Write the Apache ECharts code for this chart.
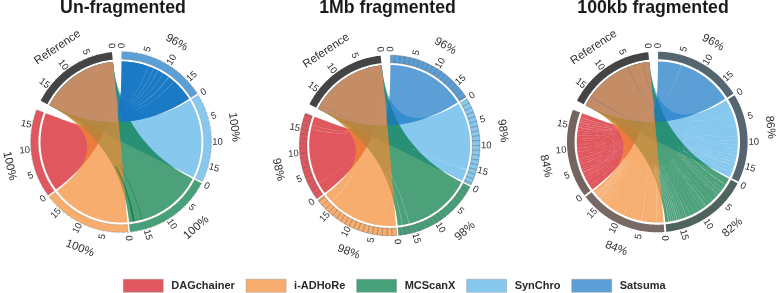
<!DOCTYPE html>
<html><head><meta charset="utf-8">
<style>html,body{margin:0;padding:0;background:#fff}#c{width:778px;height:293px}</style>
<script src="https://cdn.jsdelivr.net/npm/echarts@6/dist/echarts.min.js"></script>
</head><body><div id="c"></div>
<script>
// ---- data ----
const panels = ['Un-fragmented', '1Mb fragmented', '100kb fragmented'];
const legendOrder = ['DAGchainer', 'i-ADHoRe', 'MCScanX', 'SynChro', 'Satsuma'];
const genomeLength = 18.3;
const tickLabels = [0, 5, 10, 15];
const tickValues = [0,1,2,3,4,5,6,7,8,9,10,11,12,13,14,15,16,17,18];

const pctUnfrag = {Satsuma:'96%', SynChro:'100%', MCScanX:'100%', 'i-ADHoRe':'100%', DAGchainer:'100%'};
const pct1Mb    = {Satsuma:'96%', SynChro:'98%',  MCScanX:'98%',  'i-ADHoRe':'98%',  DAGchainer:'98%'};
const pct100kb  = {Satsuma:'96%', SynChro:'86%',  MCScanX:'82%',  'i-ADHoRe':'84%',  DAGchainer:'84%'};

// every tool aligns the whole reference
const fullBlock = [[0,18.3]];

// duplicated alignments, un-fragmented: [from,to]
const satDup0 = [[0,18.3],[0,18.3]];
const mcDup0  = [[15.2,15.35],[17.0,17.45]];
// lighter bands, un-fragmented
const satGap0 = [[6.1,6.25],[7.4,7.6],[8.5,8.7],[9.9,10.05],[11.3,11.6],[12.9,13.1]];

// uncovered gaps [from,to], 1Mb fragments
const synGap1 = [[15.5,15.6]];
const mcGap1  = [[15.6,15.7],[17.25,17.35]];
const iadGap1 = [[16.2,16.3]];
const dagGap1 = [[2.6,2.65],[15.3,15.4],[16.2,16.28]];
const refLine1 = [[17.2,17.27]];

// uncovered gaps [from,to], 100kb fragments
const satGap2 = [[5.3,5.36]];
const synGap2 = [[3.2,3.24],[6.1,6.14],[8.6,8.65],[9.7,9.74],[10.5,10.55],[11.4,11.46],[12.2,12.25],[13.1,13.16],[13.9,13.95],[14.6,14.7],[15.4,15.5],[16.3,16.36],[17.1,17.18]];
const mcGap2  = [[1.5,1.62],[2.6,2.65],[3.3,3.38],[3.8,3.84],[4.3,4.4],[4.9,4.94],[6.2,6.24],[7.3,7.36],[8.1,8.2],[8.6,8.66],[9.3,9.36],[10.2,10.25],[11.2,11.25],[12.3,12.36],[13.2,13.3],[13.8,13.86],[14.5,14.58],[15.0,15.08],[15.5,15.62],[16.0,16.1],[16.5,16.6],[17.0,17.1],[17.5,17.62]];
const iadGap2 = [[0.9,0.95],[1.5,1.6],[2.3,2.34],[3.1,3.14],[4.0,4.05],[5.0,5.1],[5.9,5.94],[6.8,6.84],[7.7,7.75],[8.6,8.64],[9.4,9.45],[10.2,10.25],[11.0,11.04],[11.9,11.94],[12.7,12.75],[13.4,13.45],[14.2,14.28],[14.8,14.88],[15.4,15.5],[16.0,16.14],[16.6,16.72],[17.1,17.25],[17.6,17.72]];
const dagGap2 = [[1.2,1.24],[2.4,2.44],[3.2,3.28],[3.8,3.84],[4.4,4.5],[5.1,5.16],[5.7,5.74],[6.4,6.48],[7.0,7.04],[7.7,7.76],[8.5,8.54],[9.3,9.36],[10.1,10.16],[11.0,11.04],[11.8,11.84],[12.5,12.54],[13.1,13.16],[13.7,13.74],[14.3,14.36],[14.9,15.0],[15.5,15.58],[16.1,16.22],[16.7,16.78],[17.2,17.3]];
const refLine2 = [[1.45,1.55],[5.0,5.1],[15.9,16.05]];

// outer ring fragment boundaries per panel
const ringEdgesUn   = [0,18.3];
const ringEdges1Mb  = [0,1,2,3,4,5,6,7,8,9,10,11,12,13,14,15,16,17,18,18.3];
const ringEdges100k = [0,18.3];

// ---- styles and layout ----
const ribbonColor = {Satsuma:'rgba(21,118,196,0.7)', SynChro:'rgba(82,176,231,0.7)', MCScanX:'rgba(0,119,65,0.7)', 'i-ADHoRe':'rgba(242,138,48,0.7)', DAGchainer:'rgba(211,15,26,0.7)'};
const ringColor = {Satsuma:'#5b9fd6', SynChro:'#86c8ee', MCScanX:'#46a07a', 'i-ADHoRe':'#f6ad6e', DAGchainer:'#e0575f', Reference:'#444444'};
const ring100k  = {Satsuma:'#556670', SynChro:'#556670', MCScanX:'#50645f', 'i-ADHoRe':'#786964', DAGchainer:'#73645f', Reference:'#444444'};
const refTint = 'rgba(238,158,140,0.32)';
const FONT = '"Liberation Sans",Arial,sans-serif';
const centers = [[121,142],[389.7,145.5],[657.3,142]];
const titleX = [123,387.5,653];
const order = ['Satsuma','SynChro','MCScanX','i-ADHoRe','DAGchainer','Reference'];
const gapAfter = [0.4,0.4,0.4,0.4,2,2];
const labelAt = {Satsuma:9.2,SynChro:7.6,MCScanX:6.9,'i-ADHoRe':8.2,DAGchainer:7.7,Reference:9};
const drawOrder = ['DAGchainer','SynChro','MCScanX','Satsuma','i-ADHoRe'];
const R = {ribbon:80.5, ringIn:82.7, ringOut:90.3, tick:91.4, tickLabel:96.5, name:114};

// sector placement on the shared angular scale
const start = {}; let cursor = 0;
order.forEach((n,i)=>{start[n]=cursor; cursor+=genomeLength+gapAfter[i];});
const total = cursor;
const ang = (n,v)=> n==='Reference' ? start[n]+genomeLength-v : start[n]+v;

const dups = [{Satsuma:satDup0,MCScanX:mcDup0},{},{}];
const streaks = [
  {Satsuma:satGap0},
  {SynChro:synGap1,MCScanX:mcGap1,'i-ADHoRe':iadGap1,DAGchainer:dagGap1},
  {Satsuma:satGap2,SynChro:synGap2,MCScanX:mcGap2,'i-ADHoRe':iadGap2,DAGchainer:dagGap2}
];
const refLines=[[],refLine1,refLine2];
const ringEdges=[ringEdgesUn,ringEdges1Mb,ringEdges100k];
const pcts=[pctUnfrag,pct1Mb,pct100kb];

function arc(api,r,a0,a1){
  const n=Math.max(2,Math.ceil(Math.abs(a1-a0)/0.25)+1), pts=[];
  for(let i=0;i<n;i++){pts.push(api.coord([r,a0+(a1-a0)*i/(n-1)]));}
  return pts;
}
function quad(A,C,B,tMax){
  const pts=[], T=tMax===undefined?1:tMax;
  for(let i=1;i<24;i++){const t=T*i/24,u=1-t;
    pts.push([u*u*A[0]+2*u*t*C[0]+t*t*B[0],u*u*A[1]+2*u*t*C[1]+t*t*B[1]]);}
  return pts;
}
function ribbonSeries(pi,tool){
  return {type:'custom',name:tool,coordinateSystem:'polar',polarIndex:pi,z:2,silent:true,
    data:fullBlock,
    renderItem(p,api){
      const s=api.value(0),e=api.value(1),C=api.coord([0,0]);
      const a=arc(api,R.ribbon,ang(tool,s),ang(tool,e));
      const b=arc(api,R.ribbon,ang('Reference',e),ang('Reference',s));
      const pts=a.concat(quad(a[a.length-1],C,b[0]),b,quad(b[b.length-1],C,a[0]));
      return {type:'polygon',shape:{points:pts},style:{fill:ribbonColor[tool],stroke:null}};
    }};
}
// duplicated blocks and gaps show on the tool's side and fade before the ribbons converge
function taperSeries(pi,tool,data,tMax,fill,z){
  return {type:'custom',coordinateSystem:'polar',polarIndex:pi,z,silent:true,data:data||[],
    renderItem(p,api){
      const s=api.value(0),e=api.value(1),C=api.coord([0,0]);
      const a=arc(api,R.ribbon,ang(tool,s),ang(tool,e));
      const Bs=api.coord([R.ribbon,ang('Reference',s)]),Be=api.coord([R.ribbon,ang('Reference',e)]);
      const q1=quad(a[a.length-1],C,Be,tMax),q2=quad(a[0],C,Bs,tMax).reverse();
      return {type:'polygon',shape:{points:a.concat(q1,q2)},style:{fill,stroke:null}};
    }};
}
// warm cast of the five ribbons stacked over the reference arc
function refTintSeries(pi){
  return {type:'custom',coordinateSystem:'polar',polarIndex:pi,z:2.4,silent:true,data:fullBlock,
    renderItem(p,api){
      const s=api.value(0),e=api.value(1),C=api.coord([0,0]);
      const a=arc(api,R.ribbon,ang('Reference',s),ang('Reference',e));
      const Ts=api.coord([R.ribbon,ang('Satsuma',s)]),Te=api.coord([R.ribbon,ang('Satsuma',e)]);
      const q1=quad(a[a.length-1],C,Te,0.5),q2=quad(a[0],C,Ts,0.5).reverse();
      return {type:'polygon',shape:{points:a.concat(q1,q2)},style:{fill:refTint,stroke:null}};
    }};
}
function refLineSeries(pi){
  return {type:'custom',coordinateSystem:'polar',polarIndex:pi,z:2.6,silent:true,data:refLines[pi],
    renderItem(p,api){
      const s=api.value(0),e=api.value(1),C=api.coord([0,0]);
      const As=api.coord([R.ribbon,ang('Reference',s)]),Ae=api.coord([R.ribbon,ang('Reference',e)]);
      const Tool=api.coord([R.ribbon,ang('SynChro',9)]);
      const q1=quad(Ae,C,Tool,0.45),q2=quad(As,C,Tool,0.45).reverse();
      return {type:'polygon',shape:{points:[As,Ae].concat(q1,q2)},style:{fill:'rgba(95,115,150,0.7)',stroke:null}};
    }};
}
function ringSeries(pi,name){
  const ed=ringEdges[pi], segs=[];
  if(name==='Reference'){segs.push([0,genomeLength]);}
  else for(let i=0;i+1<ed.length;i++)segs.push([ed[i],ed[i+1]]);
  const fill=pi===2?ring100k[name]:ringColor[name];
  const stroke=pi===1&&name!=='Reference'?'rgba(70,70,70,0.5)':(pi===0&&name!=='Reference'?'rgba(120,120,120,0.45)':null);
  return {type:'custom',coordinateSystem:'polar',polarIndex:pi,z:3,silent:true,data:segs,
    renderItem(p,api){
      const s=api.value(0),e=api.value(1);
      const a0=ang(name,s),a1=ang(name,e);
      const pts=arc(api,R.ringOut,a0,a1).concat(arc(api,R.ringIn,a1,a0));
      return {type:'polygon',shape:{points:pts},style:{fill,stroke,lineWidth:stroke?0.6:0}};
    }};
}
function tickSeries(pi,name){
  return {type:'custom',coordinateSystem:'polar',polarIndex:pi,z:3,silent:true,data:tickValues.map(v=>[v]),
    renderItem(p,api){
      const a=ang(name,api.value(0));
      const A=api.coord([R.ringOut,a]),B=api.coord([R.tick,a]);
      return {type:'line',shape:{x1:A[0],y1:A[1],x2:B[0],y2:B[1]},style:{stroke:'#888',lineWidth:0.5}};
    }};
}
function textEl(api,pos,text,size,rot){
  return {type:'text',x:pos[0],y:pos[1],rotation:-rot*Math.PI/180,
    style:{text:String(text),font:size+'px '+FONT,fill:'#2e2e2e',align:'center',verticalAlign:'middle'}};
}
function clockAngle(P,C){return (Math.atan2(P[0]-C[0],C[1]-P[1])*180/Math.PI+360)%360;}
function tickLabelSeries(pi,name){
  return {type:'custom',coordinateSystem:'polar',polarIndex:pi,z:4,silent:true,data:tickLabels.map(v=>[v]),
    renderItem(p,api){
      const v=api.value(0),P=api.coord([R.tickLabel,ang(name,v)]),C=api.coord([0,0]),th=clockAngle(P,C);
      return textEl(api,P,v,9.5,th<=180?th-90:th-270);
    }};
}
function nameSeries(pi,name,text){
  return {type:'custom',coordinateSystem:'polar',polarIndex:pi,z:4,silent:true,data:[[labelAt[name]]],
    renderItem(p,api){
      const P=api.coord([R.name,ang(name,api.value(0))]),C=api.coord([0,0]),th=clockAngle(P,C);
      return textEl(api,P,text,11.5,th<=90?th:(th<=270?th-180:th-360));
    }};
}

const series=[], polar=[], angleAxis=[], radiusAxis=[], title=[];
panels.forEach((t,pi)=>{
  polar.push({center:centers[pi],radius:90});
  angleAxis.push({polarIndex:pi,type:'value',min:0,max:total,startAngle:89.5,clockwise:true,show:false});
  radiusAxis.push({polarIndex:pi,type:'value',min:0,max:90,show:false});
  title.push({text:t,left:titleX[pi],top:-1,padding:0,textAlign:'center',textStyle:{fontFamily:FONT,fontWeight:'bold',fontSize:17.7,color:'#1a1a1a'}});
  drawOrder.forEach(tool=>{
    series.push(ribbonSeries(pi,tool));
    series.push(taperSeries(pi,tool,dups[pi][tool],tool==='Satsuma'?0.5:0.4,ribbonColor[tool],2.2));
    series.push(taperSeries(pi,tool,streaks[pi][tool],0.38,pi===0?'rgba(255,255,255,0.22)':'rgba(255,255,255,0.55)',2.5));
  });
  series.push(refTintSeries(pi));
  series.push(refLineSeries(pi));
  order.forEach(n=>{
    series.push(ringSeries(pi,n));
    if(pi===0)series.push(tickSeries(pi,n));
    series.push(tickLabelSeries(pi,n));
    series.push(nameSeries(pi,n,n==='Reference'?'Reference':pcts[pi][n]));
  });
});

const chart=echarts.init(document.getElementById('c'),null,{renderer:'canvas'});
chart.setOption({
  animation:false,backgroundColor:'#fff',title,polar,angleAxis,radiusAxis,series,
  legend:{left:123,top:279,padding:0,itemWidth:40,itemHeight:13,itemGap:11,icon:'rect',selectedMode:false,
    data:legendOrder.map(n=>({name:n,itemStyle:{color:ringColor[n],borderColor:'#999',borderWidth:0.5,opacity:1}})),
    textStyle:{fontFamily:FONT,fontWeight:'bold',fontSize:11,color:'#2a2a2a',padding:[0,0,0,3]}}
});
</script></body></html>
